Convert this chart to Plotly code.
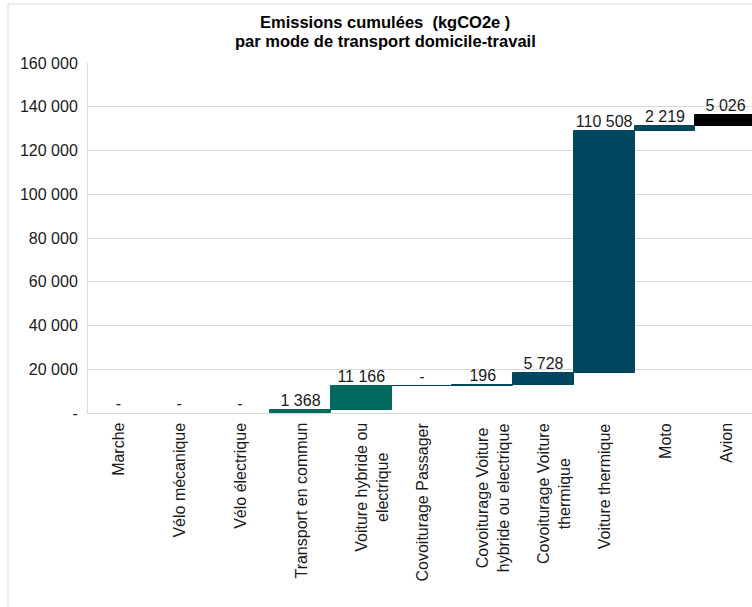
import plotly.graph_objects as go
import numpy as np

categories = ["Marche", "Vélo mécanique", "Vélo électrique", "Transport en commun",
              "Voiture hybride ou<br>electrique", "Covoiturage Passager",
              "Covoiturage Voiture<br>hybride ou electrique", "Covoiturage Voiture<br>thermique",
              "Voiture thermique", "Moto", "Avion"]
values = [0, 0, 0, 1368, 11166, 0, 196, 5728, 110508, 2219, 5026]
bar_colors = ["#006A5E", "#006A5E", "#006A5E", "#006A5E", "#006A5E", "#00465F",
              "#00465F", "#00465F", "#00465F", "#00465F", "#000000"]
line_widths = [0, 0, 0, 1, 1, 1, 1, 1, 1, 1, 1]
y_tickvals = [0, 20000, 40000, 60000, 80000, 100000, 120000, 140000, 160000]
y_ticktext = ["-", "20 000", "40 000", "60 000", "80 000", "100 000", "120 000", "140 000", "160 000"]
title_lines = ["Emissions cumulées \u00a0(kgCO2e )", "par mode de transport domicile-travail"]

vals = np.array(values)
tops = np.cumsum(vals)
bases = tops - vals
labels = ["-" if v == 0 else f"{v:,}".replace(",", " ") for v in values]

FONT = "Liberation Sans, Arial, sans-serif"

fig = go.Figure()
fig.add_trace(go.Bar(
    x=categories, y=vals, base=bases,
    marker=dict(color=bar_colors, line=dict(color=bar_colors, width=line_widths)),
    width=1.0, showlegend=False, hoverinfo="skip",
))
fig.add_trace(go.Scatter(
    x=categories, y=tops, text=labels, mode="text", textposition="top center",
    textfont=dict(family=FONT, size=16, color="#1a1a1a"), showlegend=False, hoverinfo="skip",
))

for c in categories:
    fig.add_annotation(
        x=c, y=0, xref="x", yref="y", text=c, showarrow=False, textangle=-90,
        xanchor="center", yanchor="top", yshift=-8, xshift=10 if "<br>" in c else 0,
        align="center", font=dict(family=FONT, size=16, color="#1a1a1a"),
    )

# chart title (two lines, tighter spacing)
for i, line in enumerate(title_lines):
    fig.add_annotation(
        xref="paper", yref="paper", x=(385 - 88) / 664, y=(413 - 11 - 19 * i) / 350,
        xanchor="center", yanchor="top", showarrow=False, align="center",
        text="<b>" + line + "</b>",
        font=dict(family=FONT, size=16.5, color="#000000"),
    )

fig.add_shape(type="rect", xref="paper", yref="paper",
              x0=(8 - 88) / 664, x1=1.1, y0=-0.7, y1=(413 - 4) / 350,
              line=dict(color="#D9D9D9", width=1), fillcolor="rgba(0,0,0,0)", layer="below")

fig.update_layout(
    width=752, height=607, autosize=False,
    margin=dict(l=88, r=0, t=63, b=194, pad=0),
    paper_bgcolor="white", plot_bgcolor="white",
    font=dict(family=FONT, size=16, color="#1a1a1a"),
    bargap=0,
    xaxis=dict(type="category", range=[-0.5, 10.434], showticklabels=False,
               showline=True, linecolor="#D9D9D9", linewidth=1, showgrid=False,
               ticks="", zeroline=False, fixedrange=True),
    yaxis=dict(range=[0, 160000], tickvals=y_tickvals, ticktext=y_ticktext,
               showgrid=True, gridcolor="#D9D9D9", gridwidth=1,
               showline=True, linecolor="#D9D9D9", linewidth=1, zeroline=False,
               ticks="", ticklabelstandoff=6, tickfont=dict(family=FONT, size=16, color="#1a1a1a"),
               fixedrange=True),
)

fig.write_html("out.html")
